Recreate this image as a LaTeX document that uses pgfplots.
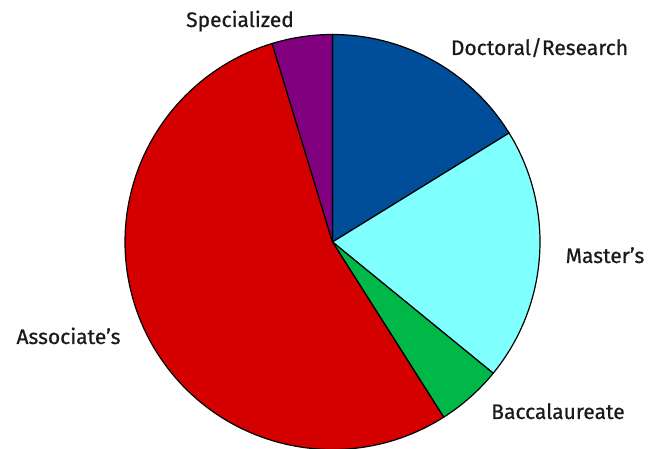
\documentclass[border=0pt]{standalone}
\usepackage{pgfplots}
\pgfplotsset{compat=1.18}
\usepackage{pgfplotstable}
\usepackage{fontspec}
\setmainfont{Fira Sans}
\newfontfamily\labelfont[FakeBold=0.7]{Fira Sans}
\definecolor{cDoc}{HTML}{004D99}
\definecolor{cMas}{HTML}{80FFFF}
\definecolor{cBac}{HTML}{00B848}
\definecolor{cAss}{HTML}{D40000}
\definecolor{cSpe}{HTML}{800080}
\definecolor{txt}{HTML}{1A1A1A}

% share of institutions, clockwise from 12 o'clock
\pgfplotstableread{
label value colour
Doctoral 16.2 cDoc
Masters 19.7 cMas
Baccalaureate 5.1 cBac
Associates 54.3 cAss
Specialized 4.7 cSpe
}\sharetable

\begin{document}
\begin{tikzpicture}
\begin{axis}[
  scale only axis,
  width=650pt, height=449pt,
  xmin=0, xmax=650, ymin=0, ymax=449,
  hide axis,
  clip=false,
]
\pgfplotstablegetrowsof{\sharetable}
\pgfmathtruncatemacro{\nrows}{\pgfplotsretval-1}
\def\cum{0}
\foreach \i in {0,...,\nrows}{
  \pgfplotstablegetelem{\i}{value}\of{\sharetable}
  \let\val\pgfplotsretval
  \pgfplotstablegetelem{\i}{colour}\of{\sharetable}
  \let\col\pgfplotsretval
  \pgfmathsetmacro{\sa}{90-3.6*\cum}
  \pgfmathsetmacro{\ea}{90-3.6*(\cum+\val)}
  \edef\temp{\noexpand\filldraw[fill=\col, draw=black, line width=1.2pt, line join=round]
    (axis cs:332.5,207) -- ++(\sa:207.5pt) arc[start angle=\sa, end angle=\ea, radius=207.5pt] -- cycle;}
  \temp
  \pgfmathsetmacro{\newcum}{\cum+\val}
  \global\let\cum\newcum
}
\tikzset{every node/.style={font=\labelfont\fontsize{21}{23}\selectfont, text=txt, anchor=base, inner sep=0pt}}
\node at (axis cs:240,422) {Specialized};
\node at (axis cs:539.5,394) {Doctoral/Research};
\node at (axis cs:605,186) {Master’s};
\node at (axis cs:558,30) {Baccalaureate};
\node at (axis cs:68.5,105) {Associate’s};
\end{axis}
\pgfresetboundingbox
\path[use as bounding box] (current axis.south west) rectangle (current axis.north east);
\end{tikzpicture}
\end{document}
